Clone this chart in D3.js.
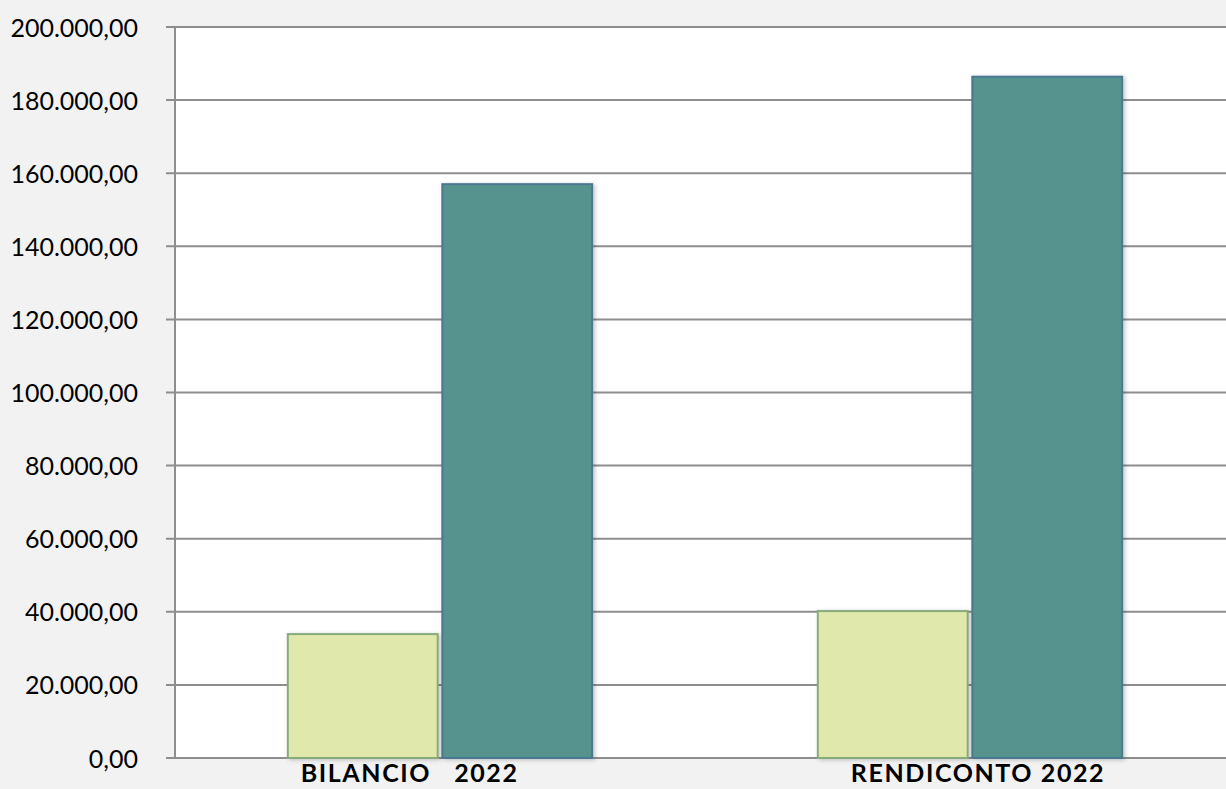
<!DOCTYPE html>
<html><head><meta charset="utf-8">
<script src="https://cdn.jsdelivr.net/npm/d3@7"></script>
<style>
html,body{margin:0;padding:0;background:#f2f2f2;}
svg{display:block;}
</style></head>
<body>
<svg id="c" width="1226" height="789"></svg>
<script>
const categories = ["BILANCIO   2022          ", "RENDICONTO 2022"];
const seriesNames = ["Serie 1", "Serie 2"];
const series1 = [33900, 40200];
const series2 = [157000, 186400];
const yTicks = [0,20000,40000,60000,80000,100000,120000,140000,160000,180000,200000];

const svg = d3.select("#c");
const pLeft = 175, pRight = 1235, pTop = 27, pBottom = 758;

svg.append("rect").attr("x", pLeft).attr("y", pTop).attr("width", 1226 - pLeft).attr("height", pBottom - pTop + 1).attr("fill", "#ffffff");

const x = d3.scaleBand().domain(categories).range([pLeft, pRight]).paddingInner(0).paddingOuter(0);
const xs = d3.scaleBand().domain(seriesNames).range([0, x.bandwidth()]).paddingInner(0.03).paddingOuter(0.73);
const y = d3.scaleLinear().domain([0, 200000]).range([pBottom, pTop]);

const fmt = v => d3.format(",.2f")(v).replace(/,/g, "X").replace(".", ",").replace(/X/g, ".");

// gridlines
svg.append("g").selectAll("line").data(yTicks).join("line")
  .attr("x1", pLeft - 9).attr("x2", 1226)
  .attr("y1", d => y(d)).attr("y2", d => y(d))
  .attr("stroke", "#8e8e8e").attr("stroke-width", 2);

// axis line
svg.append("line").attr("x1", pLeft).attr("x2", pLeft).attr("y1", pTop).attr("y2", pBottom + 1)
  .attr("stroke", "#8e8e8e").attr("stroke-width", 2);

// y labels
const yAxis = d3.axisLeft(y).tickValues(yTicks).tickFormat(fmt).tickSize(0).tickPadding(0);
const ya = svg.append("g").attr("transform", `translate(${pLeft - 37},0)`).call(yAxis);
ya.select(".domain").remove();
ya.selectAll("text").attr("font-family", "Lato, 'Noto Sans', sans-serif").attr("font-size", 25).attr("fill", "#000").attr("dy", "0.36em");

const defs = svg.append("defs");
const f = defs.append("filter").attr("id", "sh").attr("x", "-10%").attr("y", "-10%").attr("width", "130%").attr("height", "130%");
f.append("feDropShadow").attr("dx", 2).attr("dy", 1).attr("stdDeviation", 2).attr("flood-color", "#000").attr("flood-opacity", 0.22);

const data = [];
categories.forEach((c, i) => {
  data.push({cat: c, s: seriesNames[0], v: series1[i]});
  data.push({cat: c, s: seriesNames[1], v: series2[i]});
});
const fills = {"Serie 1": "#e1e8ab", "Serie 2": "#57938f"};
const strokes = {"Serie 1": "#88ab7c", "Serie 2": "#4b7891"};

svg.append("g").selectAll("rect").data(data).join("rect")
  .attr("x", d => x(d.cat) + xs(d.s))
  .attr("y", d => y(d.v))
  .attr("width", xs.bandwidth())
  .attr("height", d => pBottom - y(d.v))
  .attr("fill", d => fills[d.s])
  .attr("stroke", d => strokes[d.s])
  .attr("stroke-width", 2)
  .attr("filter", "url(#sh)");

// x labels
const xAxis = d3.axisBottom(x).tickSize(0).tickPadding(0);
const xa = svg.append("g").attr("transform", `translate(8,${pBottom})`).call(xAxis);
xa.select(".domain").remove();
xa.selectAll("text").attr("font-family", "Lato, 'Noto Sans', sans-serif").attr("font-weight", "bold")
  .attr("font-size", 25).attr("fill", "#000").attr("dy", "0.97em").attr("letter-spacing", "1.6px")
  .style("white-space", "pre");
</script>
</body></html>
